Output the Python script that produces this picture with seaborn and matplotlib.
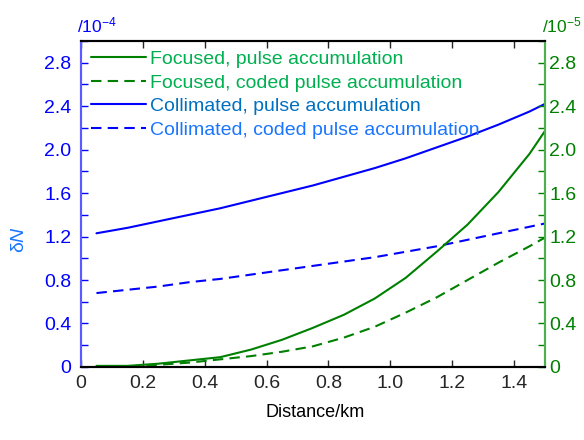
import numpy as np
import pandas as pd
import matplotlib
matplotlib.use("Agg")
import matplotlib.pyplot as plt
import seaborn as sns
from matplotlib.ticker import MultipleLocator
from matplotlib.lines import Line2D

distance = [0.05, 0.15, 0.25, 0.35, 0.45, 0.55, 0.65, 0.75, 0.85, 0.95,
            1.05, 1.15, 1.25, 1.35, 1.45, 1.5]
# right axis, x1e-5
focused_pulse = [0.01, 0.01, 0.03, 0.06, 0.09, 0.16, 0.25, 0.36, 0.48, 0.63,
                 0.82, 1.06, 1.31, 1.61, 1.96, 2.17]
focused_coded = [0.0, 0.005, 0.02, 0.04, 0.07, 0.10, 0.14, 0.19, 0.27, 0.37,
                 0.50, 0.64, 0.80, 0.96, 1.11, 1.19]
# left axis, x1e-4
collimated_pulse = [1.23, 1.28, 1.34, 1.40, 1.46, 1.53, 1.60, 1.67, 1.75, 1.83,
                    1.92, 2.02, 2.12, 2.23, 2.35, 2.42]
collimated_coded = [0.68, 0.71, 0.74, 0.78, 0.81, 0.85, 0.89, 0.93, 0.97, 1.01,
                    1.06, 1.11, 1.17, 1.23, 1.29, 1.32]
labels = ["Focused, pulse accumulation", "Focused, coded pulse accumulation",
          "Collimated, pulse accumulation", "Collimated, coded pulse accumulation"]
xtick_labels = ["0", "0.2", "0.4", "0.6", "0.8", "1.0", "1.2", "1.4"]
ytick_labels = ["0", "0.4", "0.8", "1.2", "1.6", "2.0", "2.4", "2.8"]

sns.set_style("white")
plt.rcParams['font.family'] = ['Liberation Sans', 'DejaVu Sans']
plt.rcParams['mathtext.fontset'] = 'custom'
plt.rcParams['mathtext.rm'] = 'Liberation Sans'
plt.rcParams['mathtext.it'] = 'Liberation Sans:italic'

BLUE = "#0000ff"
GREEN = "#008000"
FS = 14
DASH = (5, 3)

fig = plt.figure(figsize=(5.84, 4.40), dpi=100)
ax = fig.add_axes([0.1387, 0.166, 0.7943, 0.741])
ax2 = ax.twinx()

df_l = pd.DataFrame({"x": distance * 2,
                     "y": collimated_pulse + collimated_coded,
                     "s": [labels[2]] * len(distance) + [labels[3]] * len(distance)})
df_r = pd.DataFrame({"x": distance * 2,
                     "y": focused_pulse + focused_coded,
                     "s": [labels[0]] * len(distance) + [labels[1]] * len(distance)})

sns.lineplot(data=df_l, x="x", y="y", hue="s", style="s",
             palette=[BLUE, BLUE], dashes=[(None, None), DASH],
             ax=ax, legend=False, lw=1.5)
sns.lineplot(data=df_r, x="x", y="y", hue="s", style="s",
             palette=[GREEN, GREEN], dashes=[(None, None), DASH],
             ax=ax2, legend=False, lw=1.5)

for a in (ax, ax2):
    a.set_xlim(0, 1.5)
    a.set_ylim(0, 3.0)
    a.yaxis.set_minor_locator(MultipleLocator(0.2))
    a.set_xlabel("")
    a.set_ylabel("")
ax.set_xticks(np.arange(0, 1.41, 0.2))
ax.set_xticklabels(xtick_labels, fontsize=FS)

ax.set_yticks(np.arange(0, 2.81, 0.4))
ax.set_yticklabels(ytick_labels, fontsize=FS, color=BLUE)
ax2.set_yticks(np.arange(0, 2.81, 0.4))
ax2.set_yticklabels(ytick_labels, fontsize=FS, color=GREEN)

ax.tick_params(axis="x", which="both", direction="in", length=5, width=1, top=True, bottom=True, pad=6)
ax.tick_params(axis="y", which="both", direction="in", length=5, width=1, color=BLUE, pad=7)
ax2.tick_params(axis="y", which="both", direction="in", length=5, width=1, color=GREEN, pad=3)

for a in (ax, ax2):
    a.spines["top"].set_color("black")
    a.spines["bottom"].set_color("black")
    a.spines["left"].set_color("#5a5aff")
    a.spines["right"].set_color("#4caf50")
    for s in a.spines.values():
        s.set_linewidth(1.5)
        s.set_visible(True)

fig.text(0.033, 0.455, "δ$\\it{N}$", rotation=90, color="#1a75ff", fontsize=FS,
         ha="center", va="center")
fig.text(0.54, 0.063, "Distance/km", color="black", fontsize=FS - 1, ha="center", va="center")
fig.text(0.132, 0.943, "/10$^{-4}$", color=BLUE, fontsize=FS - 1.5, ha="left", va="center")
fig.text(0.928, 0.943, "/10$^{-5}$", color=GREEN, fontsize=FS - 1.5, ha="left", va="center")

handles = [Line2D([], [], color=GREEN, lw=1.5),
           Line2D([], [], color=GREEN, lw=1.5, ls=(0, DASH)),
           Line2D([], [], color=BLUE, lw=1.5),
           Line2D([], [], color=BLUE, lw=1.5, ls=(0, DASH))]
leg = ax2.legend(handles, labels, loc="upper left", bbox_to_anchor=(0.0, 1.0),
                 frameon=False, fontsize=FS, handlelength=2.85, handletextpad=0.2,
                 labelspacing=0.3, borderaxespad=0.0, borderpad=0.5,
                 labelcolor=["#00b050", "#00b050", "#0070c0", "#1a75ff"])

fig.savefig("out.png", dpi=100)
